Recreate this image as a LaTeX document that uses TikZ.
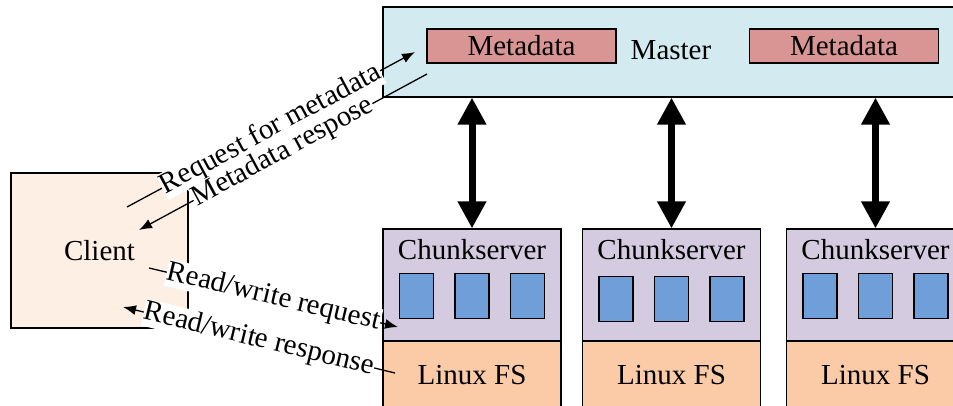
\documentclass[tikz,border=0pt]{standalone}
\usepackage{fontspec}
\setmainfont{Liberation Serif}
\usetikzlibrary{arrows.meta}

\definecolor{masterfill}{HTML}{D2EAF0}
\definecolor{metafill}{HTML}{D99594}
\definecolor{clientfill}{HTML}{FDEFE4}
\definecolor{csfill}{HTML}{D4CBE0}
\definecolor{chunkblue}{HTML}{709ED8}
\definecolor{fsfill}{HTML}{FACBA6}

\begin{document}
\begin{tikzpicture}[x=1pt,y=-1pt,
  font=\fontsize{29}{32}\selectfont,
  panel/.style={draw=black, line width=1.1pt, rectangle, inner sep=0pt},
  chunkbox/.style={draw=black, line width=1.4pt, fill=chunkblue, rectangle,
    minimum width=34pt, minimum height=45pt, inner sep=0pt},
  msg/.style={line width=1.3pt, -{Latex[length=13pt,width=10pt]}},
  msglabel/.style={sloped, fill=white, inner sep=0.5pt, pos=0.5},
  link/.style={line width=7pt,
    {Triangle[length=27pt,width=27pt]}-{Triangle[length=27pt,width=27pt]}}]

\useasboundingbox (0,0) rectangle (953,405);
\clip (0,0) rectangle (953,405);

% Master with its two metadata tables
\node[panel, fill=masterfill, minimum width=592pt, minimum height=90pt] (master) at (679,52) {};
\node (mastertxt) at (671,50) {Master};
\node[panel, fill=metafill, minimum width=189pt, minimum height=34pt] (meta1) at (521.5,46) {Metadata};
\node[panel, fill=metafill, minimum width=189pt, minimum height=34pt] (meta2) at (844,46) {Metadata};

% Client
\node[panel, fill=clientfill, minimum width=177pt, minimum height=155pt] (client) at (99.5,250.5) {Client};

% Chunkservers on top of their Linux file systems
\foreach \i/\cx/\by in {1/472/296, 2/671.5/299, 3/875.5/296} {
  \node[panel, fill=csfill, minimum width=178pt, minimum height=112pt] (cs\i) at (\cx,285) {};
  \node[panel, fill=fsfill, minimum width=178pt, minimum height=68pt] (fs\i) at (\cx,375) {Linux FS};
  \node (cstxt\i) at (\cx,250) {Chunkserver};
  \node[chunkbox] (ch\i a) at (\cx-55.5,\by) {};
  \node[chunkbox] (ch\i b) at (\cx,\by) {};
  \node[chunkbox] (ch\i c) at (\cx+55.5,\by) {};
  \draw[link] (cs\i.north |- master.south) -- (cs\i.north);
}

% Message end points
\coordinate (c-req) at (127,207);
\coordinate (m-req) at (415,52);
\coordinate (m-res) at (427,74);
\coordinate (c-res) at (139,230);
\coordinate (c-rw) at (149,268);
\coordinate (cs-rw) at (398,327);
\coordinate (fs-rw) at (395,373);
\coordinate (c-rwr) at (123,307);

% Messages between client, master and chunkservers
\draw[msg] (c-req) -- node[msglabel] {Request for metadata} (m-req);
\draw[msg] (m-res) -- node[msglabel] {Metadata respose} (c-res);
\draw[msg] (c-rw) -- node[msglabel] {Read/write request} (cs-rw);
\draw[msg] (fs-rw) -- node[msglabel] {Read/write response} (c-rwr);

\end{tikzpicture}
\end{document}
